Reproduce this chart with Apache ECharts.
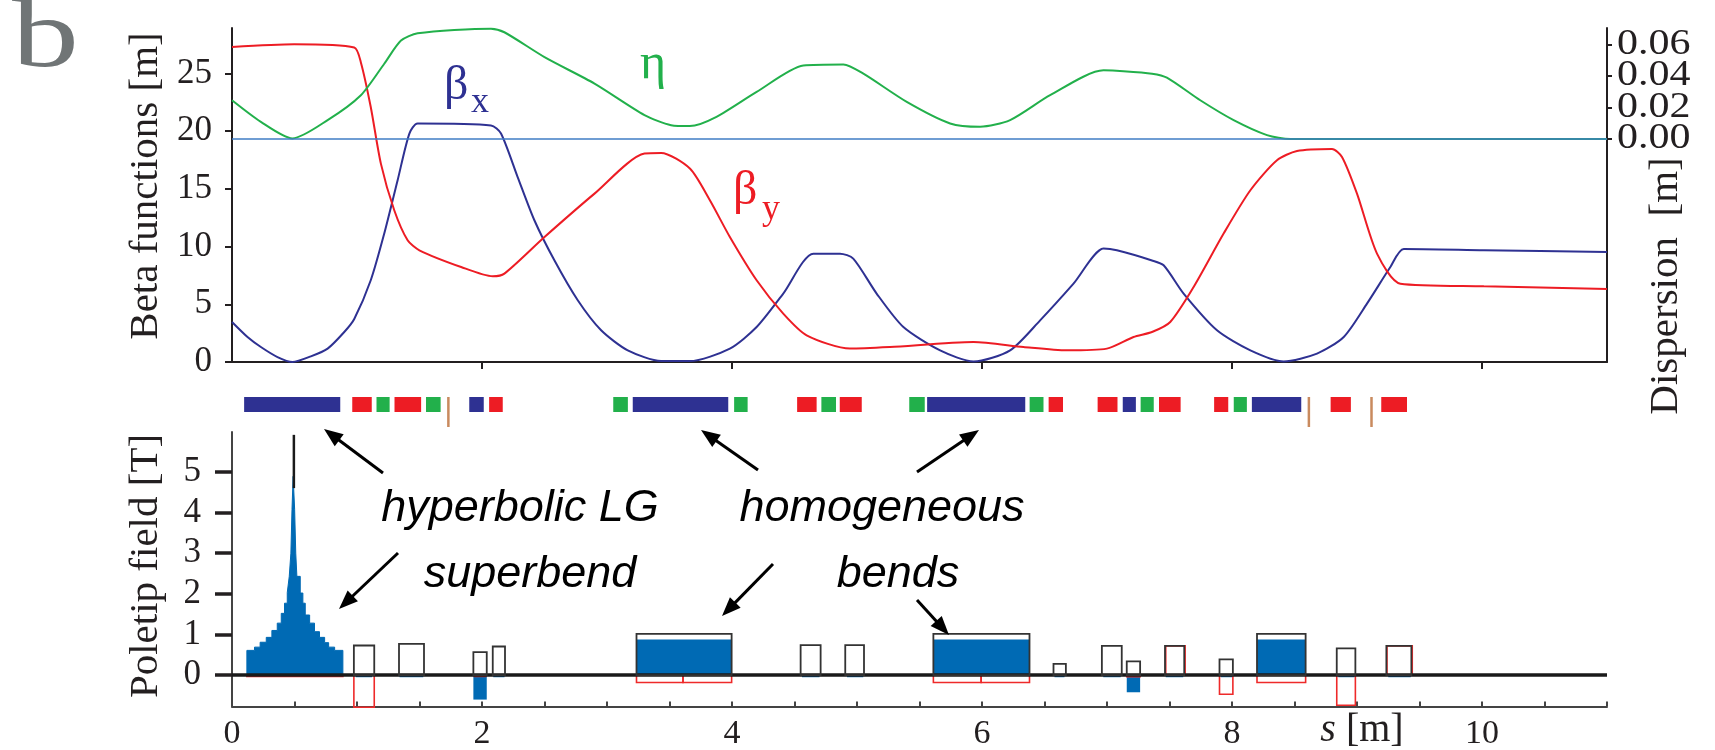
<!DOCTYPE html>
<html>
<head>
<meta charset="utf-8">
<title>Lattice optics and poletip fields</title>
<script src="https://cdn.jsdelivr.net/npm/echarts@6/dist/echarts.min.js"></script>
<style>
  html, body { margin: 0; padding: 0; background: #ffffff; }
  #chart { width: 1715px; height: 750px; }
</style>
</head>
<body>
<div id="chart"></div>
<script>
// ---------------- optics along the cell, s in metres ----------------
const betaX = [
  [0, 3.47], [0.124, 2.17], [0.231, 1.3], [0.364, 0.43], [0.484, 0.0], [0.631, 0.49],
  [0.765, 1.16], [0.898, 2.6], [0.978, 3.73], [1.11, 7.08], [1.218, 11.13], [1.325, 15.75],
  [1.419, 19.79], [1.485, 20.66], [2.072, 20.5], [2.152, 19.8], [2.286, 16.0], [2.419, 12.28],
  [2.579, 8.81], [2.766, 5.35], [2.953, 2.75], [3.166, 1.01], [3.433, 0.09], [3.663, 0.08],
  [3.983, 1.16], [4.197, 3.03], [4.41, 5.93], [4.651, 9.39], [4.864, 9.39], [4.97, 8.96],
  [5.157, 5.93], [5.371, 3.03], [5.665, 1.01], [5.932, 0.05], [6.225, 1.01], [6.465, 3.61],
  [6.732, 6.79], [6.972, 9.83], [7.079, 9.68], [7.36, 8.8], [7.453, 8.38], [7.613, 5.93],
  [7.88, 2.75], [8.147, 1.01], [8.413, 0.05], [8.68, 0.73], [8.894, 2.17], [9.08, 5.06],
  [9.267, 8.23], [9.374, 9.79], [10.015, 9.68], [11.0, 9.53]
];

const betaY = [
  [0, 27.3], [0.497, 27.53], [0.978, 27.25], [1.031, 25.96], [1.11, 22.1], [1.191, 17.19],
  [1.298, 13.15], [1.405, 10.55], [1.499, 9.68], [1.833, 8.23], [2.086, 7.43], [2.179, 7.66],
  [2.5, 10.83], [2.9, 14.59], [3.3, 18.06], [3.433, 18.11], [3.663, 16.76], [3.823, 14.01],
  [3.983, 10.83], [4.197, 7.08], [4.41, 4.19], [4.597, 2.31], [4.944, 1.16], [5.264, 1.30],
  [5.932, 1.73], [6.332, 1.30], [6.679, 1.01], [6.999, 1.16], [7.212, 2.17], [7.36, 2.6],
  [7.506, 3.47], [7.693, 6.5], [7.933, 11.13], [8.147, 14.88], [8.36, 17.48], [8.52, 18.28],
  [8.8, 18.46], [8.88, 17.77], [9.0, 14.59], [9.16, 9.39], [9.347, 6.79], [10.015, 6.56],
  [11.0, 6.33]
];

const eta = [
  [0, 0.0246], [0.231, 0.0109], [0.484, 0.0004], [0.765, 0.012], [1.031, 0.0278],
  [1.218, 0.0478], [1.352, 0.0625], [1.485, 0.0671], [2.072, 0.0701], [2.179, 0.0678],
  [2.5, 0.052], [2.9, 0.0352], [3.3, 0.0152], [3.513, 0.0088], [3.663, 0.0082],
  [3.876, 0.0141], [4.197, 0.0299], [4.571, 0.0467], [4.891, 0.0474], [5.051, 0.0415],
  [5.398, 0.0236], [5.745, 0.0099], [5.985, 0.0078], [6.225, 0.012], [6.545, 0.0278],
  [6.972, 0.0436], [7.132, 0.0431], [7.36, 0.0415], [7.479, 0.039], [7.746, 0.0246],
  [8.013, 0.012], [8.28, 0.0025], [8.466, 0.0], [11.0, 0.0]
];

// ---------------- tick values ----------------
const betaTicks = [0, 5, 10, 15, 20, 25];
const etaTicks = [0, 0.02, 0.04, 0.06];
const sMajorTicks = [2, 4, 6, 8, 10];
const sLabels = [0, 2, 4, 6, 8, 10];
const sMinorTicks = [0.5, 1, 1.5, 2, 2.5, 3, 3.5, 4, 4.5, 5, 5.5, 6, 6.5, 7, 7.5, 8, 8.5, 9, 9.5, 10, 10.5, 11];
const fieldTicks = [0, 1, 2, 3, 4, 5];

// ---------------- lattice elements [start, end] in m ----------------
const latticeBends = [[0.097, 0.866], [1.898, 2.014], [3.206, 3.970], [5.561, 6.346], [7.126, 7.231], [8.159, 8.554]];
const latticeQuads = [[0.962, 1.118], [1.300, 1.513], [2.057, 2.166], [4.521, 4.677], [4.862, 5.038], [6.533, 6.648],
                      [6.925, 7.084], [7.416, 7.589], [7.857, 7.970], [8.789, 8.951], [9.194, 9.400]];
const latticeSexts = [[1.156, 1.261], [1.552, 1.669], [3.050, 3.167], [4.017, 4.125], [4.715, 4.832], [5.418, 5.542],
                      [6.381, 6.492], [7.269, 7.374], [8.014, 8.119]];
const latticeMarkers = [1.731, 8.615, 9.116];

// ---------------- poletip fields [T] ----------------
// longitudinal-gradient superbend: slice edges [m] and field per slice [T]
const superbendEdges = [0.119, 0.180, 0.225, 0.274, 0.319, 0.362, 0.394, 0.420, 0.442, 0.458, 0.471, 0.480, 0.489,
                        0.501, 0.510, 0.519, 0.546, 0.567, 0.586, 0.621, 0.660, 0.700, 0.741, 0.773, 0.821, 0.887];
const superbendField = [0.61, 0.69, 0.81, 0.93, 1.10, 1.28, 1.52, 1.77, 2.03, 2.43, 3.0, 4.08, 4.89,
                        4.08, 3.0, 2.43, 2.02, 1.77, 1.48, 1.28, 1.07, 0.93, 0.80, 0.69, 0.61];
// centre slice: [s, from, to] of the poletip limit spike
const superbendPeak = [[0.495, 4.6, 5.91]];

// [start, end, field] : black outlines (poletip limit)
const fieldLimit = [
  [0.975, 1.138, 0.73], [1.336, 1.536, 0.77], [1.931, 2.038, 0.566], [2.086, 2.184, 0.705],
  [3.236, 3.997, 1.015], [4.549, 4.709, 0.737], [4.906, 5.056, 0.737], [5.611, 6.380, 1.015],
  [6.572, 6.671, 0.28], [6.959, 7.118, 0.72], [7.158, 7.265, 0.34], [7.464, 7.618, 0.72],
  [7.900, 8.007, 0.39], [8.200, 8.589, 1.015], [8.838, 8.987, 0.66], [9.235, 9.435, 0.72]
];
// [start, end, field] : blue filled (dipole field)
const fieldDipole = [
  [3.236, 3.997, 0.877], [5.611, 6.380, 0.877], [8.200, 8.589, 0.877],
  [1.931, 2.038, -0.60], [7.158, 7.265, -0.42],
  [0.99, 1.12, -0.05], [1.34, 1.53, -0.05], [2.09, 2.18, -0.05], [4.56, 4.70, -0.05],
  [4.92, 5.05, -0.05], [6.58, 6.66, -0.05], [6.97, 7.11, -0.05], [7.47, 7.61, -0.05],
  [7.91, 8.00, -0.05], [8.85, 8.98, -0.05], [9.25, 9.43, -0.05]
];
// [start, end, field] : red outlines (gradient field)
const fieldGradient = [
  [0.119, 0.887, -0.03], [0.975, 1.138, -0.787], [1.94, 2.03, -0.03],
  [3.236, 3.608, -0.18], [3.608, 3.997, -0.18], [5.611, 5.993, -0.18], [5.993, 6.380, -0.18],
  [7.158, 7.265, -0.04], [7.47, 7.625, 0.72], [7.900, 8.007, -0.47], [8.200, 8.589, -0.18],
  [8.838, 8.987, -0.74], [9.24, 9.442, 0.72]
];

// ---------------- styling ----------------
const SERIF = '"Liberation Serif", "Times New Roman", serif';
const SANS = '"Liberation Sans", Arial, sans-serif';
const INK = '#231f20';
const C_BX = '#2e3192';
const C_BY = '#ed1c24';
const C_ETA = '#22b04b';
const C_FIELD = '#006ab4';
const C_MARK = '#c98a5e';

// stepped outline of the superbend field profile
const superbendProfile = [[superbendEdges[0], 0]];
superbendField.forEach((b, i) => {
  superbendProfile.push([superbendEdges[i], b], [superbendEdges[i + 1], b]);
});
superbendProfile.push([superbendEdges[superbendEdges.length - 1], 0]);

function boxRenderer(fill, stroke, lineWidth) {
  return function (params, api) {
    const p0 = api.coord([api.value(0), 0]);
    const p1 = api.coord([api.value(1), api.value(2)]);
    return {
      type: 'rect',
      shape: {
        x: Math.min(p0[0], p1[0]), y: Math.min(p0[1], p1[1]),
        width: Math.abs(p1[0] - p0[0]), height: Math.abs(p1[1] - p0[1])
      },
      style: { fill: fill, stroke: stroke, lineWidth: lineWidth }
    };
  };
}

function latticeRenderer(color) {
  return function (params, api) {
    const p0 = api.coord([api.value(0), 0]);
    const p1 = api.coord([api.value(1), 1]);
    return {
      type: 'rect',
      shape: { x: p0[0], y: p1[1], width: p1[0] - p0[0], height: p0[1] - p1[1] },
      style: { fill: color, stroke: null }
    };
  };
}

function markerRenderer(params, api) {
  const top = api.coord([api.value(0), 1]);
  const bot = api.coord([api.value(0), -1]);
  return {
    type: 'line',
    shape: { x1: top[0], y1: top[1], x2: bot[0], y2: bot[1] },
    style: { stroke: C_MARK, lineWidth: 2.5 }
  };
}

function spikeRenderer(params, api) {
  const p0 = api.coord([api.value(0), api.value(1)]);
  const p1 = api.coord([api.value(0), api.value(2)]);
  return {
    type: 'line',
    shape: { x1: p0[0], y1: p0[1], x2: p1[0], y2: p1[1] },
    style: { stroke: '#1a1a1a', lineWidth: 2.5 }
  };
}

function text(str, x, baseline, size, extra, elExtra) {
  return Object.assign({
    type: 'text', x: x, y: baseline - 0.34 * size, z: 50,
    style: Object.assign({ text: str, font: size + 'px ' + SERIF, fill: INK, align: 'left', verticalAlign: 'middle' }, extra || {})
  }, elExtra || {});
}

function vtext(str, cx, cy, size) {
  return {
    type: 'text', x: cx, y: cy, rotation: Math.PI / 2, z: 50,
    style: { text: str, font: size + 'px ' + SERIF, fill: INK, align: 'center', verticalAlign: 'middle' }
  };
}

function arrow(x1, y1, x2, y2) {
  const dx = x2 - x1, dy = y2 - y1, L = Math.hypot(dx, dy), ux = dx / L, uy = dy / L;
  const hl = 19, hw = 7.5;
  const bx = x2 - ux * hl, by = y2 - uy * hl;
  return [
    { type: 'line', z: 50, shape: { x1: x1, y1: y1, x2: bx + ux * 3, y2: by + uy * 3 }, style: { stroke: '#000', lineWidth: 3 } },
    { type: 'polygon', z: 50, shape: { points: [[x2, y2], [bx - uy * hw, by + ux * hw], [bx + uy * hw, by - ux * hw]] }, style: { fill: '#000' } }
  ];
}

const axisLine = { show: true, onZero: false, lineStyle: { color: INK, width: 2 } };
const tickFont = { fontFamily: SERIF, fontSize: 35, color: INK };

const option = {
  animation: false,
  backgroundColor: '#ffffff',
  grid: [
    { left: 232, top: 28, width: 1375, height: 334, outerBoundsMode: 'none', containLabel: false },
    { left: 232, top: 397, width: 1375, height: 15, outerBoundsMode: 'none', containLabel: false },
    { left: 232, top: 432, width: 1375, height: 274.5, outerBoundsMode: 'none', containLabel: false }
  ],
  xAxis: [
    {
      gridIndex: 0, type: 'value', min: 0, max: 11, position: 'bottom',
      axisLine: axisLine,
      axisTick: { show: true, inside: false, length: 7, lineStyle: { color: INK, width: 2 }, customValues: sMajorTicks },
      axisLabel: { show: false }, splitLine: { show: false }
    },
    {
      gridIndex: 1, type: 'value', min: 0, max: 11, show: false
    },
    {
      gridIndex: 2, type: 'value', min: 0, max: 11, position: 'bottom',
      axisLine: { show: true, onZero: false, lineStyle: { color: '#444', width: 2 } },
      axisTick: { show: true, inside: true, length: 5, lineStyle: { color: '#444', width: 2 }, customValues: sMinorTicks },
      axisLabel: { show: true, margin: 11, fontSize: 34, customValues: sLabels, fontFamily: SERIF, color: INK },
      splitLine: { show: false }
    }
  ],
  yAxis: [
    {
      gridIndex: 0, type: 'value', min: 0, max: 28.94, position: 'left',
      axisLine: axisLine,
      axisTick: { show: true, inside: false, length: 7, lineStyle: { color: INK, width: 2 }, customValues: betaTicks },
      axisLabel: Object.assign({ show: true, margin: 20, customValues: betaTicks }, tickFont),
      splitLine: { show: false }
    },
    {
      // labels of the dispersion scale are set as text after layout (they sit closer than their line height)
      gridIndex: 0, type: 'value', min: -0.1416, max: 0.0705, position: 'right',
      axisLine: axisLine,
      axisTick: { show: true, inside: false, length: 5, lineStyle: { color: INK, width: 2 }, customValues: etaTicks },
      axisLabel: { show: false },
      splitLine: { show: false }
    },
    {
      gridIndex: 1, type: 'value', min: 0, max: 1, show: false
    },
    {
      gridIndex: 2, type: 'value', min: -0.77, max: 5.98, position: 'left',
      axisLine: { show: true, onZero: false, lineStyle: { color: '#444', width: 2 } },
      axisTick: { show: true, inside: false, length: 17, lineStyle: { color: INK, width: 3.5 }, customValues: fieldTicks },
      axisLabel: Object.assign({ show: true, margin: 31, customValues: fieldTicks }, tickFont),
      splitLine: { show: false }
    }
  ],
  series: [
    // optics
    {
      name: 'beta_x', type: 'line', xAxisIndex: 0, yAxisIndex: 0, data: betaX,
      showSymbol: false, smooth: 0.25, lineStyle: { color: C_BX, width: 2 }, z: 3
    },
    {
      name: 'beta_y', type: 'line', xAxisIndex: 0, yAxisIndex: 0, data: betaY,
      showSymbol: false, smooth: 0.25, lineStyle: { color: C_BY, width: 2 }, z: 3
    },
    {
      name: 'eta', type: 'line', xAxisIndex: 0, yAxisIndex: 1, data: eta,
      showSymbol: false, smooth: 0.25, lineStyle: { color: C_ETA, width: 2 }, z: 3,
      markLine: {
        silent: true, symbol: 'none', label: { show: false },
        lineStyle: { color: '#3f7cc4', width: 1.6, type: 'solid' },
        data: [{ yAxis: 0 }]
      }
    },
    // lattice strip
    { name: 'bends', type: 'custom', xAxisIndex: 1, yAxisIndex: 2, data: latticeBends, encode: { x: [0, 1] }, renderItem: latticeRenderer(C_BX), clip: false },
    { name: 'quadrupoles', type: 'custom', xAxisIndex: 1, yAxisIndex: 2, data: latticeQuads, encode: { x: [0, 1] }, renderItem: latticeRenderer(C_BY), clip: false },
    { name: 'sextupoles', type: 'custom', xAxisIndex: 1, yAxisIndex: 2, data: latticeSexts, encode: { x: [0, 1] }, renderItem: latticeRenderer(C_ETA), clip: false },
    { name: 'markers', type: 'custom', xAxisIndex: 1, yAxisIndex: 2, data: latticeMarkers.map(s => [s]), encode: { x: 0 }, renderItem: markerRenderer, clip: false },
    // poletip fields
    {
      name: 'superbend', type: 'line', xAxisIndex: 2, yAxisIndex: 3, data: superbendProfile,
      showSymbol: false, smooth: false, z: 2,
      lineStyle: { color: C_FIELD, width: 1 },
      areaStyle: { color: C_FIELD, opacity: 1, origin: 'auto' }
    },
    { name: 'dipole field', type: 'custom', xAxisIndex: 2, yAxisIndex: 3, data: fieldDipole, encode: { x: [0, 1], y: 2 }, renderItem: boxRenderer(C_FIELD, null, 0), clip: false, z: 2 },
    { name: 'gradient field', type: 'custom', xAxisIndex: 2, yAxisIndex: 3, data: fieldGradient, encode: { x: [0, 1], y: 2 }, renderItem: boxRenderer('none', '#ee2a2a', 1.6), clip: false, z: 3 },
    {
      name: 'poletip limit', type: 'custom', xAxisIndex: 2, yAxisIndex: 3, data: fieldLimit, encode: { x: [0, 1], y: 2 },
      renderItem: boxRenderer('none', '#333333', 1.8), clip: false, z: 5,
      markLine: {
        silent: true, symbol: 'none', label: { show: false },
        lineStyle: { color: '#1a1a1a', width: 3.5, type: 'solid' },
        data: [{ yAxis: 0 }]
      }
    },
    { name: 'superbend peak', type: 'custom', xAxisIndex: 2, yAxisIndex: 3, data: superbendPeak, encode: { x: 0, y: [1, 2] }, renderItem: spikeRenderer, clip: false, z: 6 }
  ]
};

const annotations = [
  text('b', 12, 74, 97, { fill: '#707576' }, { scaleX: 1.38 }),
  vtext('Beta functions [m]', 146, 186, 41),
  vtext('Dispersion  [m]', 1666, 286, 41),
  vtext('Poletip field [T]', 146, 566, 41),
  // curve labels
  text('β', 444, 103, 48, { fill: C_BX }),
  text('x', 471, 115, 36, { fill: C_BX }),
  text('η', 640, 82, 50, { fill: C_ETA }),
  text('β', 733, 208, 48, { fill: C_BY }),
  text('y', 762, 222, 36, { fill: C_BY }),
  // horizontal axis title
  {
    type: 'text', x: 1362, y: 744 - 0.34 * 40, z: 50,
    style: {
      text: '{i|s} [m]', align: 'center', verticalAlign: 'middle',
      font: '40px ' + SERIF, fill: INK,
      rich: { i: { fontStyle: 'italic', fontFamily: SERIF, fontSize: 40, fill: INK } }
    }
  },
  // annotations
  text('hyperbolic LG', 520, 524, 45, { font: 'italic 45px ' + SANS, fill: '#000', align: 'center' }),
  text('superbend', 530, 590, 45, { font: 'italic 45px ' + SANS, fill: '#000', align: 'center' }),
  text('homogeneous', 882, 524, 45, { font: 'italic 45px ' + SANS, fill: '#000', align: 'center' }),
  text('bends', 898, 590, 45, { font: 'italic 45px ' + SANS, fill: '#000', align: 'center' })
].concat(
  arrow(383, 473, 324, 429),
  arrow(398, 553, 339, 609),
  arrow(758, 470, 701, 430),
  arrow(917, 472, 979, 430),
  arrow(773, 564, 722, 616),
  arrow(917, 600, 949, 635)
);

const chart = echarts.init(document.getElementById('chart'), null, { renderer: 'canvas' });
chart.setOption(option);

// dispersion scale labels, placed on the right axis ticks
const rightEdge = chart.convertToPixel({ xAxisIndex: 0 }, 11);
const etaLabels = etaTicks.map(v => ({
  type: 'text', x: rightEdge + 10, y: chart.convertToPixel({ yAxisIndex: 1 }, v), z: 50, scaleX: 1.2,
  style: { text: v.toFixed(2), font: '35px ' + SERIF, fill: INK, align: 'left', verticalAlign: 'middle' }
}));

chart.setOption({ graphic: annotations.concat(etaLabels) });
</script>
</body>
</html>
